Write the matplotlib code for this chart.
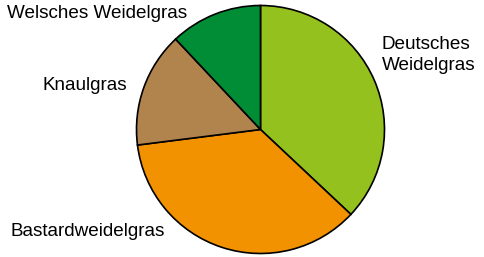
import matplotlib
matplotlib.use("Agg")
import matplotlib.pyplot as plt

categories = ["Deutsches\nWeidelgras", "Bastardweidelgras", "Knaulgras", "Welsches Weidelgras"]
values = [37, 36, 15, 12]
colors = ["#95c11f", "#f39200", "#b1844d", "#008d36"]

plt.rcParams['font.family'] = ['Liberation Sans', 'DejaVu Sans']

W, H = 485, 257
fig = plt.figure(figsize=(W / 100, H / 100), dpi=100)
ax = fig.add_axes([0, 0, 1, 1])

cx, cy, r = 260.5, 129.5, 124
wedges, _ = ax.pie(values, colors=colors, startangle=-90, counterclock=True,
                   center=(cx, cy), radius=r, frame=True,
                   wedgeprops=dict(edgecolor='black', linewidth=1.2))
ax.set_xlim(0, W)
ax.set_ylim(H, 0)
ax.set_aspect('equal')
ax.axis('off')

label_pos = [(382, 55, 'left'), (11, 232, 'left'), (43, 85, 'left'), (7, 13, 'left')]
for lab, (x, y, ha) in zip(categories, label_pos):
    ax.text(x, y, lab, ha=ha, va='center', fontsize=13.6, linespacing=1.3)

fig.savefig("out.png", dpi=100)
